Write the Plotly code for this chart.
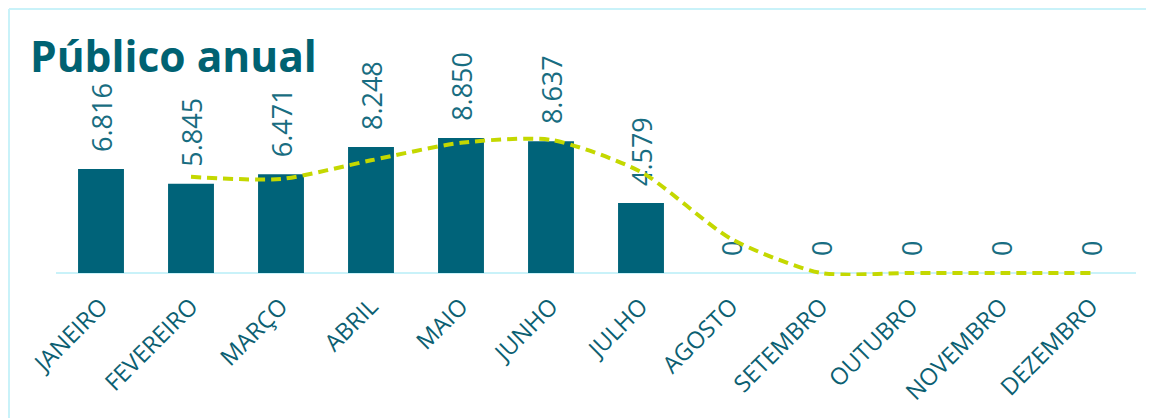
import plotly.graph_objects as go

months = ["JANEIRO", "FEVEREIRO", "MARÇO", "ABRIL", "MAIO", "JUNHO", "JULHO",
          "AGOSTO", "SETEMBRO", "OUTUBRO", "NOVEMBRO", "DEZEMBRO"]
publico = [6816, 5845, 6471, 8248, 8850, 8637, 4579, 0, 0, 0, 0, 0]
labels = ["6.816", "5.845", "6.471", "8.248", "8.850", "8.637", "4.579", "0", "0", "0", "0", "0"]
tendencia = [None, 6300, 6160, 7380, 8530, 8720, 6620, 2240, 0, 0, 0, 0]

W, H = 1146, 410
L, R, T, B = 48, 18, 62, 142
plot_w = W - L - R
plot_h = H - T - B
YMIN, YMAX = -200, 13300

fig = go.Figure()
fig.add_trace(go.Bar(
    x=months, y=publico, text=["\u00a0\u00a0" + s for s in labels],
    textposition="outside", textangle=-90, constraintext="none",
    textfont=dict(family="Open Sans", size=27, color="#186d81"),
    marker=dict(color="#006379", line=dict(width=0)),
    width=0.51, cliponaxis=False, showlegend=False,
))
fig.add_trace(go.Scatter(
    x=months, y=tendencia, mode="lines", cliponaxis=False,
    line=dict(color="#c4d800", width=4, dash="10px,6px", shape="spline", smoothing=0.7),
    showlegend=False, connectgaps=False,
))

px2x = lambda px: (px - L) / plot_w
px2y = lambda py: (H - B - py) / plot_h

fig.update_layout(
    width=W, height=H,
    margin=dict(l=L, r=R, t=T, b=B, autoexpand=False),
    paper_bgcolor="white", plot_bgcolor="white",
    title=dict(text="<b>Público anual</b>", x=22 / W, xanchor="left", y=1 - 49 / H, yanchor="middle",
               font=dict(family="Open Sans", size=42.5, color="#006272")),
    xaxis=dict(showgrid=False, zeroline=False, showline=False,
               tickangle=-45, tickfont=dict(family="Open Sans", size=23.5, color="#0c5f72"),
               ticks="", ticklabelstandoff=11, range=[-0.5, 11.5], automargin=False),
    yaxis=dict(showgrid=False, showticklabels=False, ticks="", showline=False,
               zeroline=True, zerolinecolor="#c9f2f9", zerolinewidth=2,
               range=[YMIN, YMAX]),
    shapes=[
        dict(type="line", xref="paper", yref="paper", x0=px2x(1), x1=px2x(1), y0=px2y(1), y1=px2y(420),
             line=dict(color="#c9f2f9", width=2)),
        dict(type="line", xref="paper", yref="paper", x0=px2x(1), x1=px2x(1160), y0=px2y(1), y1=px2y(1),
             line=dict(color="#c9f2f9", width=2)),
    ],
)
fig.write_html("out.html")
